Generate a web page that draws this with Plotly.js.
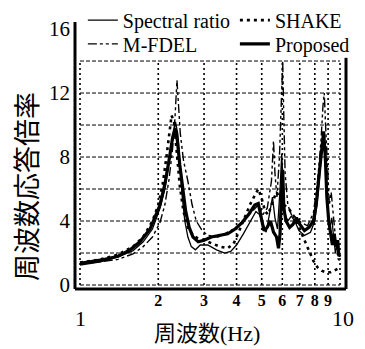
<!DOCTYPE html>
<html>
<head>
<meta charset="utf-8">
<script src="https://cdn.plot.ly/plotly-3.0.1.min.js"></script>
<style>html,body{margin:0;padding:0;background:#fff;}#chart{width:365px;height:349px;}</style>
</head>
<body>
<div id="chart"></div>
<script>
// ---- data ----
const specF = [1.0,1.2,1.4,1.6,1.75,1.9,2.03,2.12,2.2,2.27,2.33,2.38,2.42,2.47,2.53,2.6,2.68,2.78,2.9,3.1,3.35,3.6,3.8,4.0,4.25,4.5,4.75,4.9,5.05,5.2,5.35,5.5,5.62,5.75,5.88,5.97,6.05,6.15,6.3,6.5,6.7,6.95,7.3,7.7,8.0,8.25,8.45,8.6,8.72,8.85,9.0,9.15,9.3,9.45,9.6,9.75,9.9,10.0];
const specV = [1.25,1.45,1.75,2.15,2.7,3.5,4.8,6.0,7.6,9.2,10.2,9.4,7.8,5.6,4.0,3.0,2.4,2.2,2.5,2.5,2.2,2.0,2.1,2.5,3.2,3.9,4.6,4.4,3.8,3.3,4.4,5.5,4.2,3.5,6.0,8.2,6.0,4.4,4.0,4.3,4.0,3.4,3.1,3.3,4.0,5.8,7.8,9.0,8.4,6.5,4.5,3.6,4.2,3.0,2.0,2.5,2.0,2.0];

const shakeF = [1.0,1.2,1.4,1.6,1.75,1.9,2.0,2.08,2.15,2.2,2.25,2.3,2.35,2.42,2.5,2.6,2.72,2.85,3.0,3.2,3.45,3.7,3.9,4.1,4.3,4.5,4.7,4.85,5.0,5.15,5.3,5.5,5.7,5.9,6.1,6.4,6.7,7.0,7.3,7.6,7.9,8.2,8.5,8.8,9.2,9.5,9.8,10.0];
const shakeV = [1.4,1.6,1.9,2.4,3.0,4.0,5.0,6.3,8.0,9.5,10.6,10.2,8.5,6.2,4.6,3.6,3.1,2.9,2.8,2.6,2.4,2.3,2.6,3.4,4.2,5.0,5.6,6.0,5.4,4.6,4.4,5.2,5.8,5.4,5.0,4.7,4.2,3.5,2.8,2.1,1.5,1.1,0.9,0.8,0.8,0.9,1.0,1.1];

const mfdelF = [1.0,1.2,1.4,1.6,1.75,1.9,2.03,2.12,2.2,2.27,2.32,2.36,2.39,2.43,2.5,2.6,2.7,2.8,2.95,3.1,3.4,3.7,4.0,4.3,4.6,4.85,5.05,5.25,5.45,5.55,5.62,5.72,5.85,5.95,6.02,6.08,6.15,6.3,6.5,6.8,7.1,7.5,7.9,8.2,8.45,8.6,8.7,8.8,8.95,9.1,9.25,9.4,9.55,9.7,9.85,10.0];
const mfdelV = [1.3,1.45,1.6,1.95,2.4,3.0,3.9,5.0,6.6,8.5,10.5,12.8,11.5,9.5,7.8,6.5,5.0,4.0,3.4,3.1,3.0,3.3,3.6,4.1,4.6,5.0,4.4,4.8,6.5,9.0,7.0,5.5,8.0,11.0,14.0,10.5,7.0,5.0,4.4,4.2,3.9,3.7,4.5,6.5,9.0,11.2,12.0,10.0,7.0,5.0,5.8,4.5,3.0,2.2,1.6,1.5];

const propF = [1.0,1.2,1.4,1.56,1.7,1.86,2.03,2.12,2.2,2.27,2.32,2.37,2.42,2.48,2.55,2.63,2.72,2.85,3.0,3.2,3.45,3.7,3.95,4.2,4.45,4.7,4.85,5.0,5.1,5.25,5.4,5.55,5.7,5.8,5.88,5.95,6.02,6.08,6.2,6.4,6.6,6.8,7.0,7.3,7.6,7.9,8.1,8.3,8.5,8.65,8.78,8.9,9.05,9.2,9.35,9.5,9.65,9.8,9.9,10.0];
const propV = [1.35,1.55,1.8,2.2,2.7,3.5,5.0,6.3,7.8,9.2,9.8,9.0,7.5,6.0,4.6,3.6,3.0,2.7,2.8,3.0,3.1,3.2,3.5,3.9,4.4,5.0,5.1,4.2,3.4,3.6,4.0,3.3,3.0,2.3,3.2,5.5,7.2,4.8,4.0,3.6,3.8,4.2,3.8,3.4,3.6,4.0,5.0,6.8,8.5,9.6,8.0,5.5,4.0,3.3,2.5,3.2,2.4,2.8,1.8,1.9];

const seriesNames = ['Spectral ratio','SHAKE','M-FDEL','Proposed'];
const xTickVals = [2,3,4,5,6,7,8,9];
const xEndLabels = [1,10];
const yTickVals = [0,4,8,12,16];
const hGrid = [0,2,4,6,8,10,12,14];
const vGrid = [1,2,3,4,5,6,7,8,9,10];

const serif = 'Liberation Serif, Times New Roman, serif';
const cjk = 'Liberation Serif, Noto Sans CJK JP, serif';

const traces = [
  {x: shakeF, y: shakeV, name: seriesNames[1], legend: 'legend2', mode: 'lines',
   line: {color: '#000', width: 2.6, dash: '3px,4px'}},
  {x: mfdelF, y: mfdelV, name: seriesNames[2], legend: 'legend3', mode: 'lines',
   line: {color: '#000', width: 1.4, dash: '9px,3px,3px,3px,3px,3px'}},
  {x: specF, y: specV, name: seriesNames[0], legend: 'legend', mode: 'lines',
   line: {color: '#000', width: 1.3}},
  {x: propF, y: propV, name: seriesNames[3], legend: 'legend4', mode: 'lines',
   line: {color: '#000', width: 3.2}}
];

const shapes = [];
hGrid.forEach(v => shapes.push({type:'line', xref:'x', yref:'y', x0:1, x1:10, y0:v, y1:v,
  layer:'below', line:{color:'#000', width:1, dash:'4px,2px'}}));
vGrid.forEach(v => shapes.push({type:'line', xref:'x', yref:'y', x0:v, x1:v, y0:0, y1:14,
  layer:'below', line:{color:'#000', width:1.6, dash:'2px,3px'}}));
// frame
shapes.push({type:'line', xref:'paper', yref:'paper', x0:0, x1:0, y0:0, y1:1, line:{color:'#000', width:3}});
shapes.push({type:'line', xref:'paper', yref:'paper', x0:0, x1:1, y0:0, y1:0, line:{color:'#000', width:3}});
shapes.push({type:'line', xref:'paper', yref:'y', x0:1, x1:1, y0:-0.25, y1:14.2, line:{color:'#000', width:3}});

const legFont = {family: serif, size: 20, color: '#000'};
function leg(x, y) {
  return {x: x, y: y, xanchor: 'left', yanchor: 'middle', bgcolor: 'rgba(0,0,0,0)',
    borderwidth: 0, font: legFont, orientation: 'v', tracegroupgap: 0};
}

const annotations = [
  ...xEndLabels.map((v, i) => ({x: Math.log10(v), y: -0.109, xref: 'x', yref: 'paper',
    text: String(v), showarrow: false, xanchor: 'center', yanchor: 'middle', xshift: i ? 3 : 0,
    font: {family: serif, size: 22, color: '#000'}})),
  {x: 0.487, y: -0.168, xref: 'paper', yref: 'paper', text: '周波数(Hz)', showarrow: false,
   xanchor: 'center', yanchor: 'middle', font: {family: cjk, size: 22, color: '#000'}},
  {x: -0.181, y: 0.386, xref: 'paper', yref: 'paper', text: '周波数応答倍率', showarrow: false,
   textangle: -90, xanchor: 'center', yanchor: 'middle',
   font: {family: 'Noto Sans CJK JP, serif', size: 27, color: '#000'}}
];

const layout = {
  width: 365, height: 349,
  margin: {l: 75, r: 19, t: 22, b: 60, autoexpand: false},
  paper_bgcolor: '#fff', plot_bgcolor: '#fff',
  xaxis: {type: 'log', range: [-0.01923, 1.02308], showgrid: false, zeroline: false,
    showline: false, ticks: '', tickvals: xTickVals, ticktext: xTickVals.map(String),
    tickfont: {family: serif, size: 16, color: '#000', weight: 'bold'}, automargin: false},
  yaxis: {range: [-0.25, 16.44], showgrid: false, zeroline: false, showline: false,
    ticks: '', tickvals: yTickVals, ticktext: yTickVals.map(String), automargin: false,
    tickfont: {family: serif, size: 21, color: '#000'}, ticklabelstandoff: 4},
  showlegend: true,
  legend: leg(0.029, 1.007),
  legend2: leg(0.590, 1.007),
  legend3: leg(0.029, 0.918),
  legend4: leg(0.590, 0.918),
  shapes: shapes,
  annotations: annotations
};

Plotly.newPlot('chart', traces, layout, {displayModeBar: false, staticPlot: true});
</script>
</body>
</html>
